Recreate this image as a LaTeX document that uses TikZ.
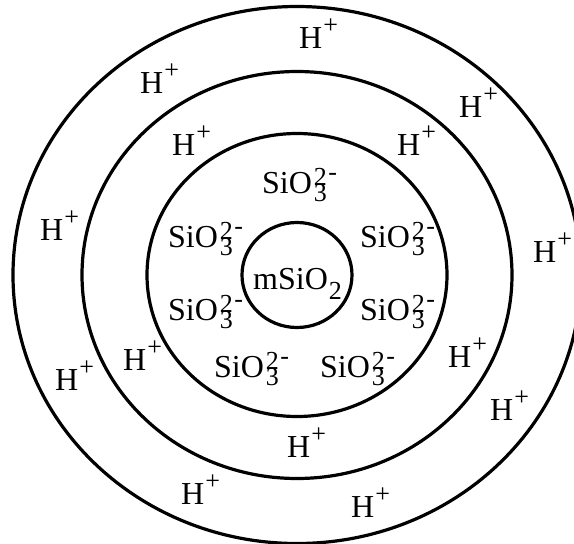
\documentclass[tikz,border=0pt]{standalone}
\usepackage{fontspec}
\setmainfont{Liberation Serif}
\newcommand{\hion}{H\kern1pt\raisebox{15pt}{\fontsize{26}{26}\selectfont +}}
\newcommand{\sion}{SiO\kern2pt\rlap{\raisebox{8pt}{\fontsize{26}{26}\selectfont 2\kern1.5pt\raisebox{5pt}{-}}}\raisebox{-8pt}{\fontsize{26}{26}\selectfont 3}}
\newcommand{\silica}{mSiO\kern1pt\raisebox{-10pt}{\fontsize{26}{26}\selectfont 2}}
\begin{document}
\begin{tikzpicture}[x=1pt, y=-1pt,
    ring/.style={line width=3.2pt},
    ion/.style={anchor=base west, inner sep=0pt, font=\fontsize{32}{38}\selectfont}]
  \useasboundingbox (0,0) rectangle (574,544);
  \coordinate (c) at (297,275);
  % rings
  \draw[ring] (c) ellipse [x radius=284, y radius=268.5];
  \draw[ring] (c) ellipse [x radius=215, y radius=203.5];
  \draw[ring] (c) ellipse [x radius=150, y radius=141.5];
  \draw[ring] (c) ellipse [x radius=55, y radius=52.5];
  % core
  \node[ion] (core) at (253,289) {\silica};
  % silicate ions
  \node[ion] (s1) at (262,193) {\sion};
  \node[ion] (s2) at (168,247) {\sion};
  \node[ion] (s3) at (360,247) {\sion};
  \node[ion] (s4) at (168,320) {\sion};
  \node[ion] (s5) at (360,320) {\sion};
  \node[ion] (s6) at (214,377) {\sion};
  \node[ion] (s7) at (320,377) {\sion};
  % protons
  \node[ion] (h1) at (299,48) {\hion};
  \node[ion] (h2) at (140,93) {\hion};
  \node[ion] (h3) at (459,117) {\hion};
  \node[ion] (h4) at (172,155) {\hion};
  \node[ion] (h5) at (397,155) {\hion};
  \node[ion] (h6) at (40,240) {\hion};
  \node[ion] (h7) at (533,262) {\hion};
  \node[ion] (h8) at (123,370) {\hion};
  \node[ion] (h9) at (55,390) {\hion};
  \node[ion] (h10) at (448,367) {\hion};
  \node[ion] (h11) at (490,420) {\hion};
  \node[ion] (h12) at (287,457) {\hion};
  \node[ion] (h13) at (181,504) {\hion};
  \node[ion] (h14) at (351,517) {\hion};
\end{tikzpicture}
\end{document}
